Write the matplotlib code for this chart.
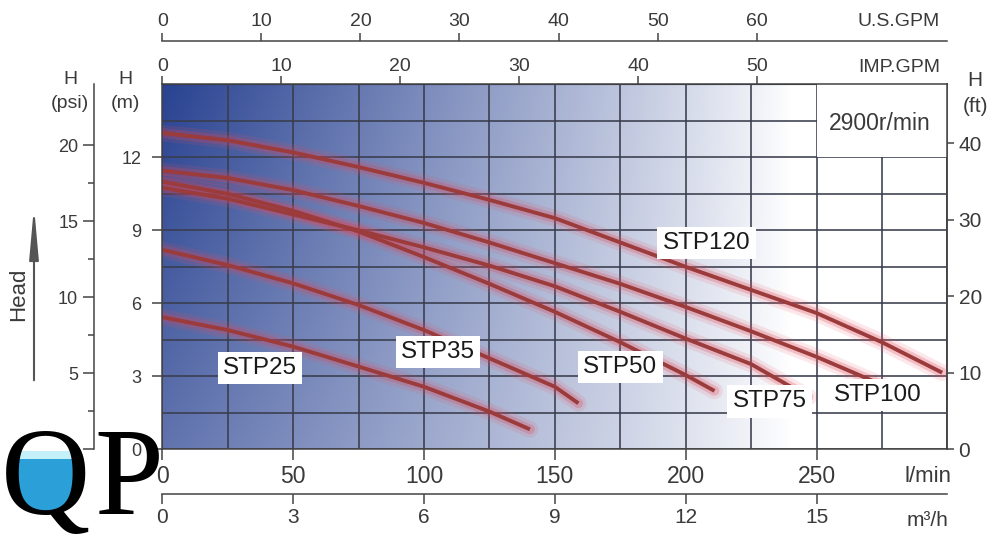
import numpy as np
import matplotlib
matplotlib.use('Agg')
import matplotlib.pyplot as plt
from matplotlib.ticker import MultipleLocator, FixedLocator
from matplotlib.patches import Ellipse, Rectangle

plt.rcParams['font.family'] = ['Liberation Sans', 'DejaVu Sans']

# ---------------- data (flow in l/min, head in m) ----------------
stp25_q = [0, 25, 50, 75, 100, 125, 140.5]
stp25_h = [5.43, 4.9, 4.22, 3.4, 2.57, 1.55, 0.82]

stp35_q = [0, 25, 50, 75, 100, 125, 150, 159]
stp35_h = [8.2, 7.57, 6.82, 5.93, 4.9, 3.74, 2.57, 1.89]

stp50_q = [0, 25, 50, 75, 100, 125, 150, 175, 200, 211]
stp50_h = [11.0, 10.5, 9.8, 8.95, 7.9, 6.8, 5.65, 4.4, 3.05, 2.4]

stp75_q = [0, 25, 50, 75, 100, 125, 150, 175, 200, 225, 247]
stp75_h = [10.75, 10.3, 9.65, 9.0, 8.3, 7.55, 6.7, 5.65, 4.55, 3.5, 2.15]

stp100_q = [0, 25, 50, 75, 100, 125, 150, 175, 200, 225, 250, 275]
stp100_h = [11.45, 11.15, 10.65, 10.0, 9.3, 8.5, 7.65, 6.8, 5.85, 4.85, 3.8, 2.65]

stp120_q = [0, 25, 50, 75, 100, 125, 150, 175, 200, 225, 250, 275, 298]
stp120_h = [13.0, 12.7, 12.2, 11.6, 10.95, 10.25, 9.5, 8.5, 7.5, 6.55, 5.6, 4.4, 3.15]

series_names = ['STP25', 'STP35', 'STP50', 'STP75', 'STP100', 'STP120']
series_q = [stp25_q, stp35_q, stp50_q, stp75_q, stp100_q, stp120_q]
series_h = [stp25_h, stp35_h, stp50_h, stp75_h, stp100_h, stp120_h]

lmin_ticks = [0, 50, 100, 150, 200, 250]
m3h_ticks = [0, 3, 6, 9, 12, 15]
usgpm_ticks = [0, 10, 20, 30, 40, 50, 60]
impgpm_ticks = [0, 10, 20, 30, 40, 50]
head_m_ticks = [0, 3, 6, 9, 12]
head_psi_ticks = [0, 5, 10, 15, 20]
head_psi_minor = [2.5, 7.5, 12.5, 17.5]
head_ft_ticks = [0, 10, 20, 30, 40]
speed_text = '2900r/min'

# unit conversions / scale factors as drawn on the chart
L_PER_USGAL = 3.78541
L_PER_IMPGAL = 4.54609
M3H_PER_LMIN = 0.06
PSI_PER_M_DRAWN = 1.6
FT_PER_M_DRAWN = 3.18

# ---------------- layout ----------------
W, H = 1000, 539
fig = plt.figure(figsize=(10, 5.39), dpi=100)
fig.patch.set_facecolor('white')

L, R, T, B = 162.3, 947.4, 84.3, 449.3
ax = fig.add_axes([L / W, 1 - B / H, (R - L) / W, (B - T) / H])
ax.set_xlim(0, 300)
ax.set_ylim(0, 15)

TXT = '#3a3a3a'
SP = '#444444'

# background gradient
nx, ny = 600, 300
u = np.linspace(0, 1, nx)[None, :]
v = np.linspace(1, 0, ny)[:, None]
d = np.clip(1 - u / 0.8, 0, 1) ** 0.9 * (0.74 + 0.26 * v)
dark = np.array([0.16, 0.26, 0.57])
img = 1 - d[..., None] * (1 - dark)
ax.imshow(img, extent=[0, 300, 0, 15], aspect='auto', origin='upper',
          zorder=0, interpolation='bilinear')
ax.set_xlim(0, 300)
ax.set_ylim(0, 15)

# grid
ax.set_xticks(lmin_ticks)
ax.set_yticks(head_m_ticks)
ax.xaxis.set_minor_locator(MultipleLocator(25))
ax.yaxis.set_minor_locator(MultipleLocator(1.5))
ax.set_axisbelow(True)
ax.grid(which='both', color='#383c4c', lw=1.15)
ax.tick_params(which='minor', length=0)
ax.tick_params(axis='x', which='major', direction='out', length=8, width=1.1,
               labelsize=16.5, pad=3, colors=SP, labelcolor=TXT)
ax.tick_params(axis='y', which='major', direction='out', length=7.2, width=1.1,
               labelsize=13, pad=8, colors=SP, labelcolor=TXT)
for s in ax.spines.values():
    s.set_color(SP)
    s.set_linewidth(1.1)

# white area behind speed text
ax.add_patch(Rectangle((250, 12), 50, 3, facecolor='white', edgecolor='none', zorder=0.8))
ax.text(274, 13.4, speed_text, ha='center', va='center', fontsize=16.5, color=TXT, zorder=5)

# curves
for q, h in zip(series_q, series_h):
    ax.plot(q, h, color='#e8505f', lw=12, alpha=0.13, zorder=2, solid_capstyle='round')
    ax.plot(q, h, color='#dc4454', lw=7, alpha=0.25, zorder=2.1, solid_capstyle='round')
    ax.plot(q, h, color='#9b3b3b', lw=2.8, zorder=2.2, solid_capstyle='butt')

label_pos = {'STP25': (37.3, 3.34), 'STP35': (105.4, 4.0), 'STP50': (175, 3.38),
             'STP75': (232, 1.97), 'STP100': (273.5, 2.23), 'STP120': (208, 8.48)}
for name in series_names:
    x, y = label_pos[name]
    ax.text(x, y, name, ha='center', va='center', fontsize=17.5, color='#1a1a1a',
            zorder=4, bbox=dict(boxstyle='square,pad=0.22', fc='white', ec='none'))

# top axes
imp = ax.secondary_xaxis('top', functions=(lambda x: x / L_PER_IMPGAL, lambda x: x * L_PER_IMPGAL))
imp.set_xticks(impgpm_ticks)
imp.tick_params(direction='out', length=6, width=1.1, labelsize=14, pad=1,
                colors=SP, labelcolor=TXT)

us_loc = 1 + (T - 41) / (B - T)
us = ax.secondary_xaxis(us_loc, functions=(lambda x: x / L_PER_USGAL, lambda x: x * L_PER_USGAL))
us.set_xticks(usgpm_ticks)
us.tick_params(direction='out', length=6, width=1.1, labelsize=14, pad=2,
               colors=SP, labelcolor=TXT)
for s in us.spines.values():
    s.set_color(SP)
    s.set_linewidth(1.1)

# bottom m3/h axis
m3_loc = -(494 - B) / (B - T)
m3 = ax.secondary_xaxis(m3_loc, functions=(lambda x: x * M3H_PER_LMIN, lambda x: x / M3H_PER_LMIN))
m3.set_xticks(m3h_ticks)
m3.tick_params(direction='out', length=7, width=1.1, labelsize=15, pad=3,
               colors=SP, labelcolor=TXT)
for s in m3.spines.values():
    s.set_color(SP)
    s.set_linewidth(1.1)

# psi axis
psi_loc = -(L - 93.5) / (R - L)
psi = ax.secondary_yaxis(psi_loc, functions=(lambda m: m * PSI_PER_M_DRAWN, lambda p: p / PSI_PER_M_DRAWN))
psi.set_yticks(head_psi_ticks)
psi.yaxis.set_minor_locator(FixedLocator(head_psi_minor))
psi.tick_params(which='major', direction='out', length=8, width=1.1, labelsize=13, pad=3,
                colors=SP, labelcolor=TXT)
psi.tick_params(which='minor', direction='out', length=4, width=1.1, colors=SP)
for s in psi.spines.values():
    s.set_color(SP)
    s.set_linewidth(1.1)

# ft axis
ft = ax.secondary_yaxis('right', functions=(lambda m: m * FT_PER_M_DRAWN, lambda f: f / FT_PER_M_DRAWN))
ft.set_yticks(head_ft_ticks)
ft.tick_params(direction='out', length=5, width=1.1, labelsize=15, pad=3,
               colors=SP, labelcolor=TXT)
for s in ft.spines.values():
    s.set_color(SP)
    s.set_linewidth(1.1)

# ---------------- overlay (pixel coordinates) ----------------
ov = fig.add_axes([0, 0, 1, 1], zorder=10)
ov.set_xlim(0, W)
ov.set_ylim(H, 0)
ov.axis('off')
ov.patch.set_alpha(0)

ov.text(70, 79, 'H', ha='center', va='center', fontsize=14, color=TXT)
ov.text(70, 103, '(psi)', ha='center', va='center', fontsize=14, color=TXT)
ov.text(125, 79, 'H', ha='center', va='center', fontsize=14, color=TXT)
ov.text(125, 103, '(m)', ha='center', va='center', fontsize=14, color=TXT)
ov.text(975, 81, 'H', ha='center', va='center', fontsize=15, color=TXT)
ov.text(975, 106, '(ft)', ha='center', va='center', fontsize=15, color=TXT)
ov.text(940, 22, 'U.S.GPM', ha='right', va='center', fontsize=14, color=TXT)
ov.text(940, 67, 'IMP.GPM', ha='right', va='center', fontsize=14, color=TXT)
ov.text(952, 477, 'l/min', ha='right', va='center', fontsize=16, color=TXT)
ov.text(948, 520, 'm³/h', ha='right', va='center', fontsize=15, color=TXT)
ov.text(19, 294, 'Head', ha='center', va='center', rotation=90, fontsize=16, color=TXT)
ov.annotate('', xy=(34, 204), xytext=(34, 383),
            arrowprops=dict(arrowstyle='-|>,head_length=2.2,head_width=0.2',
                            color='#555555', lw=1.5, mutation_scale=14))

# logo
clip = Rectangle((0, 458), 100, 80, transform=ov.transData)
water = Ellipse((46, 474), 60, 80, facecolor='#2a9fd8', edgecolor='none', zorder=1)
ov.add_patch(water)
water.set_clip_path(clip)
clip2 = Rectangle((0, 451), 100, 8, transform=ov.transData)
foam = Ellipse((46, 474), 60, 80, facecolor='#c4f0fa', edgecolor='none', zorder=1.1)
ov.add_patch(foam)
foam.set_clip_path(clip2)
ov.text(1, 514, 'Q', ha='left', va='baseline', fontsize=89, color='black',
        family=['Liberation Serif', 'DejaVu Serif'], zorder=3)
ov.text(94, 514, 'P', ha='left', va='baseline', fontsize=89, color='black',
        family=['Liberation Serif', 'DejaVu Serif'], zorder=3)

fig.savefig('out.png', dpi=100)
